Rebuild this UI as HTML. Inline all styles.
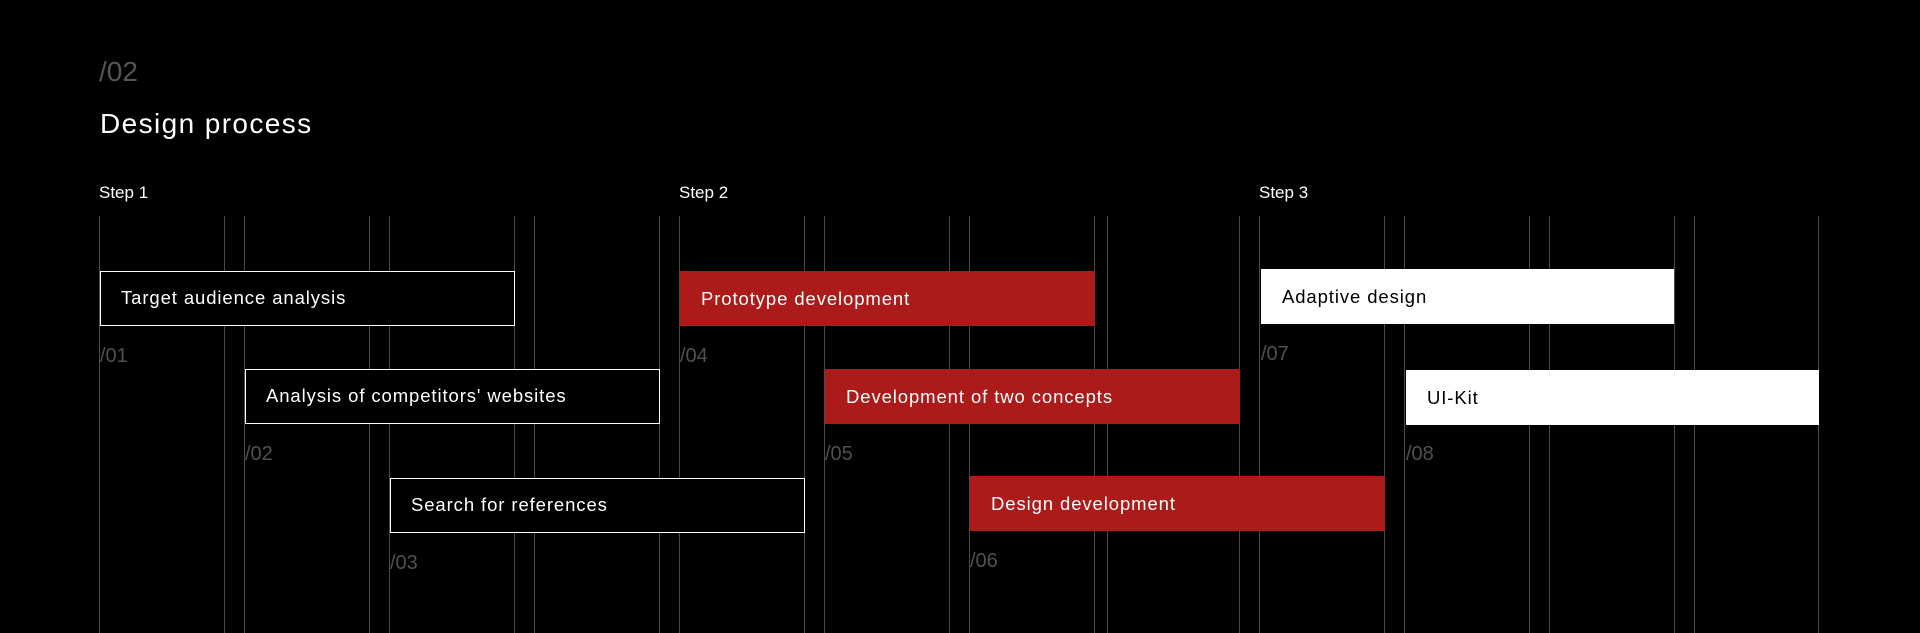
<!DOCTYPE html>
<html><head><meta charset="utf-8"><style>
body{margin:0;background:#000;width:1920px;height:633px;overflow:hidden;position:relative;font-family:"Liberation Sans",sans-serif;}
.a{position:absolute;white-space:nowrap}
.l{position:absolute;top:216px;height:417px;width:1px;background:#4a4a4a}
.b{position:absolute;width:415px;height:55px;box-sizing:border-box;font-size:18.5px;letter-spacing:0.9px;line-height:55px;padding-left:21px;color:#fff;white-space:nowrap}
.o{border:1.5px solid #fff;background:#000;line-height:52px;padding-left:20px}
.r{background:#ad1a1a}
.w{background:#fff;color:#000}
.n{position:absolute;font-size:20px;color:#505050}
.s{position:absolute;font-size:17px;color:#fff;top:183px}
</style></head><body>
<div class="a" style="left:99px;top:56px;font-size:28px;color:#555">/02</div>
<div class="a" style="left:100px;top:108px;font-size:28px;color:#fff;letter-spacing:1.4px">Design process</div>
<div class="s" style="left:99px">Step 1</div>
<div class="s" style="left:679px">Step 2</div>
<div class="s" style="left:1259px">Step 3</div>

<div class="l" style="left:99px"></div><div class="l" style="left:224px"></div>
<div class="l" style="left:244px"></div><div class="l" style="left:369px"></div>
<div class="l" style="left:389px"></div><div class="l" style="left:514px"></div>
<div class="l" style="left:534px"></div><div class="l" style="left:659px"></div>
<div class="l" style="left:679px"></div><div class="l" style="left:804px"></div>
<div class="l" style="left:824px"></div><div class="l" style="left:949px"></div>
<div class="l" style="left:969px"></div><div class="l" style="left:1094px"></div>
<div class="l" style="left:1107px"></div><div class="l" style="left:1239px"></div>
<div class="l" style="left:1259px"></div><div class="l" style="left:1384px"></div>
<div class="l" style="left:1404px"></div><div class="l" style="left:1529px"></div>
<div class="l" style="left:1549px"></div><div class="l" style="left:1674px"></div>
<div class="l" style="left:1694px"></div><div class="l" style="left:1818px"></div>

<div class="b o" style="left:100px;top:271px">Target audience analysis</div>
<div class="n" style="left:100px;top:345px">/01</div>
<div class="b o" style="left:245px;top:369px">Analysis of competitors' websites</div>
<div class="n" style="left:245px;top:443px">/02</div>
<div class="b o" style="left:390px;top:478px">Search for references</div>
<div class="n" style="left:390px;top:552px">/03</div>

<div class="b r" style="left:680px;top:271px">Prototype development</div>
<div class="n" style="left:680px;top:345px">/04</div>
<div class="b r" style="left:825px;top:369px">Development of two concepts</div>
<div class="n" style="left:825px;top:443px">/05</div>
<div class="b r" style="left:970px;top:476px">Design development</div>
<div class="n" style="left:970px;top:550px">/06</div>

<div class="b w" style="left:1261px;top:269px;width:413px">Adaptive design</div>
<div class="n" style="left:1261px;top:343px">/07</div>
<div class="b w" style="left:1406px;top:370px;width:413px">UI-Kit</div>
<div class="n" style="left:1406px;top:443px">/08</div>
</body></html>
